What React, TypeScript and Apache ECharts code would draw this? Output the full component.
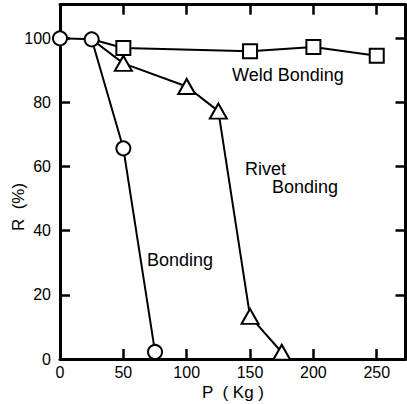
import React, { useEffect, useRef } from "react";
import * as echarts from "echarts";

// P (Kg) and R (%) values
const bondingP = [0, 25, 50, 75];
const bondingR = [100, 99.7, 65.7, 2.2];
const weldP = [25, 50, 150, 200, 250];
const weldR = [99.7, 97, 96, 97.3, 94.6];
const rivetP = [25, 50, 100, 125, 150, 175];
const rivetR = [99.7, 92.2, 85, 77.3, 13.3, 2.1];

const xTicks = [0, 50, 100, 150, 200, 250];
const yTicks = [0, 20, 40, 60, 80, 100];

const FONT = '"Liberation Sans", Arial, sans-serif';

export default function App() {
  const ref = useRef<HTMLDivElement>(null);
  useEffect(() => {
    if (!ref.current) return;
    const chart = echarts.init(ref.current, null, { renderer: "svg" });

    const toData = (xs: number[], ys: number[], hideFirst: boolean) =>
      xs.map((x, i) =>
        hideFirst && i === 0
          ? { value: [x, ys[i]], symbol: "none" }
          : { value: [x, ys[i]] }
      );

    const common = {
      type: "line",
      lineStyle: { color: "#000", width: 2 },
      itemStyle: { color: "#fff", borderColor: "#000", borderWidth: 2 },
      showAllSymbol: true,
      emphasis: { disabled: true },
    };

    const tick = { show: true, inside: true, length: 10, lineStyle: { color: "#000", width: 2.5 } };
    const line = { show: true, onZero: false, lineStyle: { color: "#000", width: 3 } };

    const xBase = {
      type: "value",
      min: 0,
      max: 272.7,
      interval: 50,
      splitLine: { show: false },
      axisLine: line,
      axisTick: tick,
    };
    const yBase = {
      type: "value",
      min: 0,
      max: 110.5,
      interval: 20,
      splitLine: { show: false },
      axisLine: line,
      axisTick: tick,
    };

    chart.setOption({
      animation: false,
      backgroundColor: "#fff",
      grid: { left: 60, right: 1.5, top: 4.7, bottom: 45, containLabel: false },
      xAxis: [
        {
          ...xBase,
          position: "bottom",
          axisLabel: {
            show: true,
            color: "#000",
            fontSize: 16,
            fontFamily: FONT,
            margin: 5,
            showMaxLabel: false,
            formatter: (v: number) => (xTicks.includes(v) ? String(v) : ""),
          },
        },
        { ...xBase, position: "top", axisLabel: { show: false } },
      ],
      yAxis: [
        {
          ...yBase,
          position: "left",
          axisLabel: {
            show: true,
            color: "#000",
            fontSize: 16,
            fontFamily: FONT,
            margin: 9,
            padding: [7, 0, 0, 0],
            showMaxLabel: false,
            formatter: (v: number) => (yTicks.includes(v) ? String(v) : ""),
          },
        },
        { ...yBase, position: "right", axisLabel: { show: false } },
      ],
      series: [
        {
          type: "line",
          xAxisIndex: 1,
          yAxisIndex: 1,
          data: [],
          silent: true,
        },
        {
          ...common,
          name: "Weld Bonding",
          symbol: "rect",
          symbolSize: 14,
          data: toData(weldP, weldR, true),
          z: 2,
        },
        {
          ...common,
          name: "Rivet Bonding",
          symbol: "triangle",
          symbolSize: [17, 15],
          data: toData(rivetP, rivetR, true),
          z: 3,
        },
        {
          ...common,
          name: "Bonding",
          symbol: "circle",
          symbolSize: 14,
          data: toData(bondingP, bondingR, false),
          z: 4,
        },
      ],
      graphic: [
        {
          type: "text",
          x: 232,
          y: 75,
          style: { text: "Weld Bonding", font: `18px ${FONT}`, fill: "#000", align: "left", verticalAlign: "middle" },
        },
        {
          type: "text",
          x: 245,
          y: 169,
          style: { text: "Rivet", font: `18px ${FONT}`, fill: "#000", align: "left", verticalAlign: "middle" },
        },
        {
          type: "text",
          x: 272,
          y: 187,
          style: { text: "Bonding", font: `18px ${FONT}`, fill: "#000", align: "left", verticalAlign: "middle" },
        },
        {
          type: "text",
          x: 147,
          y: 260,
          style: { text: "Bonding", font: `18px ${FONT}`, fill: "#000", align: "left", verticalAlign: "middle" },
        },
        {
          type: "text",
          x: 233,
          y: 392,
          style: { text: "P  ( Kg )", font: `17px ${FONT}`, fill: "#000", align: "center", verticalAlign: "middle" },
        },
        {
          type: "text",
          x: 18,
          y: 207,
          rotation: Math.PI / 2,
          style: { text: "R  (%)", font: `17px ${FONT}`, fill: "#000", align: "center", verticalAlign: "middle" },
        },
      ],
    });
    return () => chart.dispose();
  }, []);
  return (
    <div
      ref={ref}
      style={{ position: "absolute", left: 0, top: 0, width: 407, height: 404 }}
    />
  );
}
